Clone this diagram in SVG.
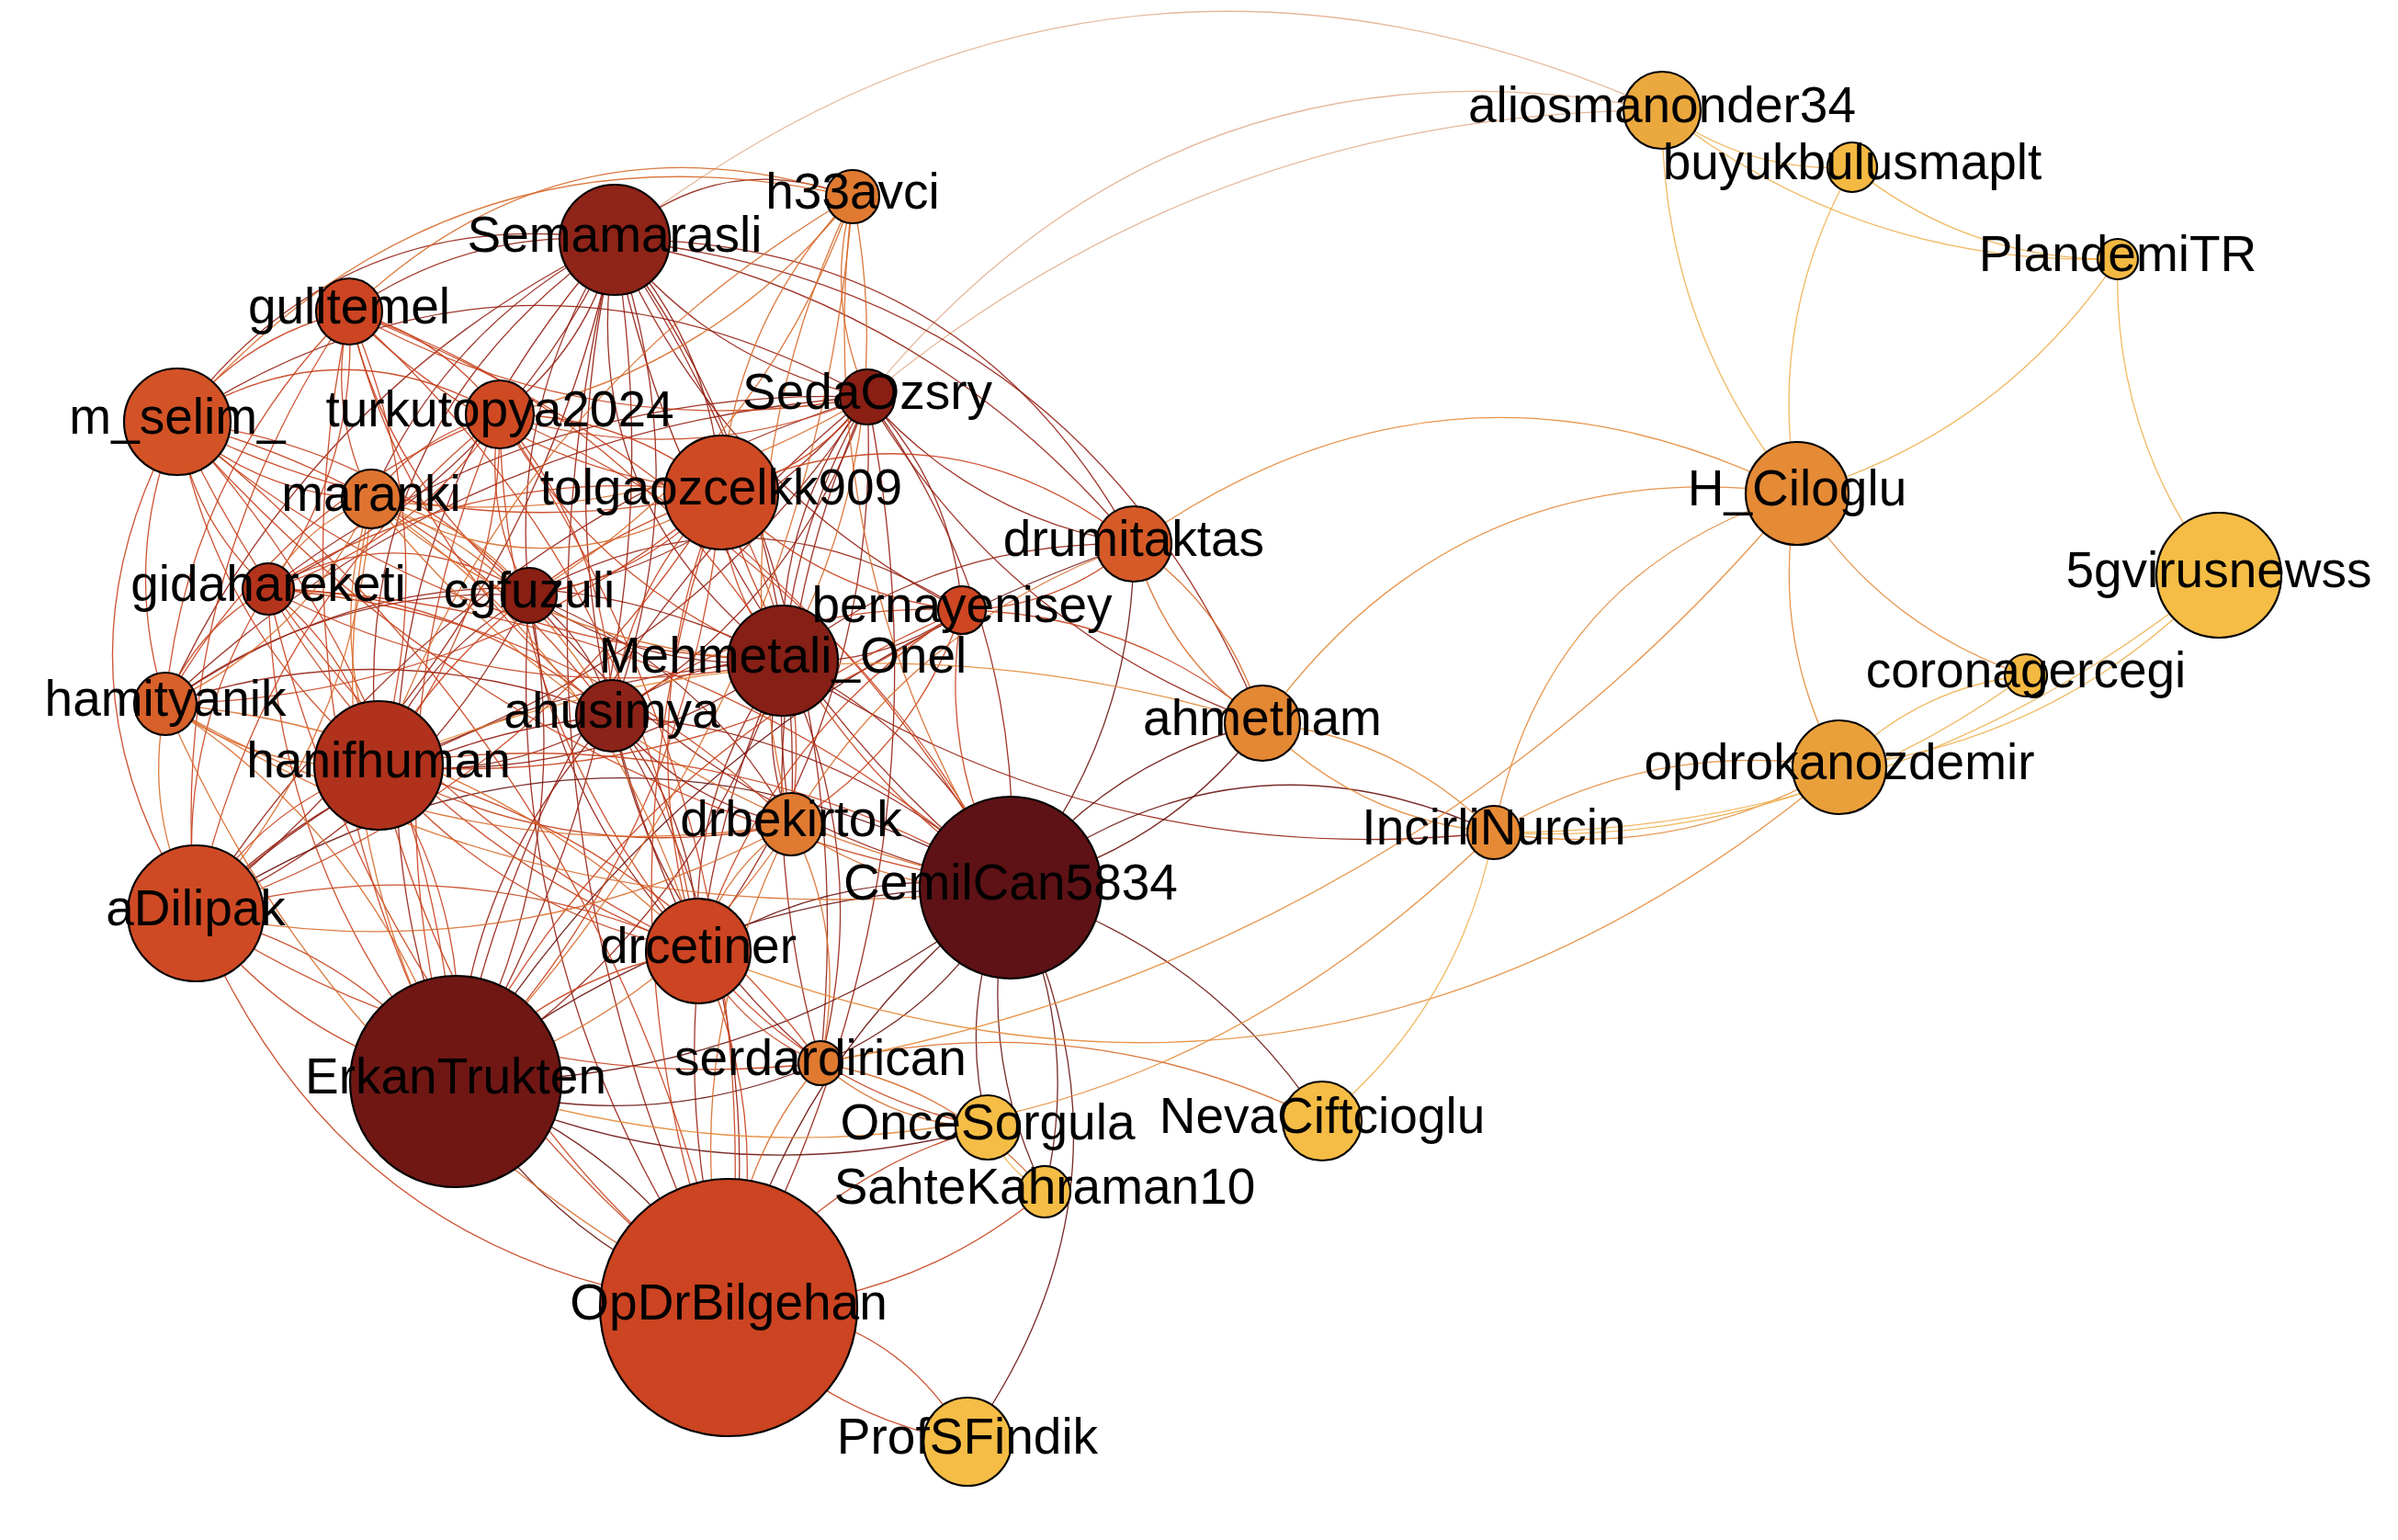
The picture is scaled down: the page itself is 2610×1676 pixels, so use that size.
<svg xmlns="http://www.w3.org/2000/svg" xmlns:xlink="http://www.w3.org/1999/xlink" width="2610" height="1676" viewBox="0 0 2610 1676">
<style>
#edges use{stroke-width:1.3;stroke-opacity:.9}
.k1{stroke:#6a1410}.k2{stroke:#951f12}.k3{stroke:#c8401c}.k4{stroke:#d86a2a}.k5{stroke:#e48a38}.k6{stroke:#f0b050}.k7{stroke:#e2b090}
.n circle{stroke:#000;stroke-width:2.2}
.n text{font-family:"Liberation Sans",Arial,Helvetica,sans-serif;font-size:55px;text-anchor:middle;fill:#000}
</style>
<defs>
<path id="a" d="M0 0Q.5 .3 1 0" fill="none" vector-effect="non-scaling-stroke"/>
<path id="b" d="M0 0Q.5 -.3 1 0" fill="none" vector-effect="non-scaling-stroke"/>
<path id="c" d="M0 0Q.5 .18 1 0" fill="none" vector-effect="non-scaling-stroke"/>
<path id="d" d="M0 0Q.5 -.18 1 0" fill="none" vector-effect="non-scaling-stroke"/>
</defs>
<rect width="2610" height="1676" fill="#fff"/>
<g id="edges">
<g class="k7">
<use href="#b" transform="matrix(1140,-141,141,1140,669,261)"/>
<use href="#b" transform="matrix(865,-312,312,865,944,432)"/>
<use href="#d" transform="matrix(865,-312,312,865,944,432)"/>
</g>
<g class="k2">
<use href="#b" transform="matrix(259,-47,47,259,669,261)"/>
<use href="#c" transform="matrix(-289,78,-78,-289,669,261)"/>
<use href="#a" transform="matrix(-476,198,-198,-476,669,261)"/>
<use href="#d" transform="matrix(-125,190,-190,-125,669,261)"/>
<use href="#c" transform="matrix(-265,282,-282,-265,669,261)"/>
<use href="#d" transform="matrix(116,275,-275,116,669,261)"/>
<use href="#c" transform="matrix(275,171,-171,275,669,261)"/>
<use href="#d" transform="matrix(-377,380,-380,-377,669,261)"/>
<use href="#c" transform="matrix(-93,387,-387,-93,669,261)"/>
<use href="#a" transform="matrix(183,458,-458,183,669,261)"/>
<use href="#d" transform="matrix(-3,518,-518,-3,669,261)"/>
<use href="#c" transform="matrix(-489,505,-505,-489,669,261)"/>
<use href="#a" transform="matrix(-257,572,-572,-257,669,261)"/>
<use href="#d" transform="matrix(192,636,-636,192,669,261)"/>
<use href="#c" transform="matrix(431,705,-705,431,669,261)"/>
<use href="#d" transform="matrix(-456,733,-733,-456,669,261)"/>
<use href="#c" transform="matrix(91,774,-774,91,669,261)"/>
<use href="#a" transform="matrix(-173,916,-916,-173,669,261)"/>
<use href="#d" transform="matrix(-173,916,-916,-173,669,261)"/>
<use href="#c" transform="matrix(124,1162,-1162,124,669,261)"/>
<use href="#d" transform="matrix(565,331,-331,565,669,261)"/>
<use href="#b" transform="matrix(565,331,-331,565,669,261)"/>
<use href="#b" transform="matrix(705,526,-526,705,669,261)"/>
<use href="#d" transform="matrix(224,896,-896,224,669,261)"/>
<use href="#c" transform="matrix(378,403,-403,378,669,261)"/>
<use href="#c" transform="matrix(-652,209,-209,-652,944,432)"/>
<use href="#d" transform="matrix(-368,216,-216,-368,944,432)"/>
<use href="#c" transform="matrix(-92,287,-287,-92,944,432)"/>
<use href="#d" transform="matrix(-278,347,-347,-278,944,432)"/>
<use href="#c" transform="matrix(-764,334,-334,-764,944,432)"/>
<use href="#d" transform="matrix(-532,401,-401,-532,944,432)"/>
<use href="#c" transform="matrix(-83,465,-465,-83,944,432)"/>
<use href="#d" transform="matrix(156,534,-534,156,944,432)"/>
<use href="#c" transform="matrix(-731,562,-562,-731,944,432)"/>
<use href="#d" transform="matrix(-184,603,-603,-184,944,432)"/>
<use href="#c" transform="matrix(-448,745,-745,-448,944,432)"/>
<use href="#d" transform="matrix(-151,991,-991,-151,944,432)"/>
<use href="#c" transform="matrix(290,160,-160,290,944,432)"/>
<use href="#c" transform="matrix(430,355,-355,430,944,432)"/>
<use href="#d" transform="matrix(103,232,-232,103,944,432)"/>
<use href="#c" transform="matrix(-51,725,-725,-51,944,432)"/>
<use href="#a" transform="matrix(-751,27,-27,-751,944,432)"/>
<use href="#c" transform="matrix(276,71,-71,276,576,648)"/>
<use href="#d" transform="matrix(90,131,-131,90,576,648)"/>
<use href="#c" transform="matrix(-396,118,-118,-396,576,648)"/>
<use href="#c" transform="matrix(-164,185,-185,-164,576,648)"/>
<use href="#d" transform="matrix(285,249,-249,285,576,648)"/>
<use href="#c" transform="matrix(524,318,-318,524,576,648)"/>
<use href="#d" transform="matrix(-363,346,-346,-363,576,648)"/>
<use href="#c" transform="matrix(184,387,-387,184,576,648)"/>
<use href="#d" transform="matrix(-80,529,-529,-80,576,648)"/>
<use href="#c" transform="matrix(217,775,-775,217,576,648)"/>
<use href="#b" transform="matrix(471,16,-16,471,576,648)"/>
<use href="#c" transform="matrix(-186,60,-60,-186,852,719)"/>
<use href="#a" transform="matrix(-672,47,-47,-672,852,719)"/>
<use href="#d" transform="matrix(-440,114,-114,-440,852,719)"/>
<use href="#c" transform="matrix(9,178,-178,9,852,719)"/>
<use href="#d" transform="matrix(248,247,-247,248,852,719)"/>
<use href="#c" transform="matrix(-639,275,-275,-639,852,719)"/>
<use href="#c" transform="matrix(-92,316,-316,-92,852,719)"/>
<use href="#d" transform="matrix(-356,458,-458,-356,852,719)"/>
<use href="#c" transform="matrix(-59,704,-704,-59,852,719)"/>
<use href="#c" transform="matrix(195,-55,55,195,852,719)"/>
<use href="#d" transform="matrix(41,438,-438,41,852,719)"/>
<use href="#c" transform="matrix(774,187,-187,774,852,719)"/>
<use href="#d" transform="matrix(382,-127,127,382,852,719)"/>
<use href="#c" transform="matrix(-486,-13,13,-486,666,779)"/>
<use href="#d" transform="matrix(-254,54,-54,-254,666,779)"/>
<use href="#c" transform="matrix(195,118,-118,195,666,779)"/>
<use href="#d" transform="matrix(434,187,-187,434,666,779)"/>
<use href="#c" transform="matrix(-453,215,-215,-453,666,779)"/>
<use href="#d" transform="matrix(94,256,-256,94,666,779)"/>
<use href="#c" transform="matrix(-170,398,-398,-170,666,779)"/>
<use href="#d" transform="matrix(127,644,-644,127,666,779)"/>
<use href="#c" transform="matrix(227,378,-378,227,666,779)"/>
</g>
<g class="k1">
<use href="#a" transform="matrix(-887,28,-28,-887,1100,966)"/>
<use href="#c" transform="matrix(-340,69,-69,-340,1100,966)"/>
<use href="#d" transform="matrix(-604,211,-211,-604,1100,966)"/>
<use href="#c" transform="matrix(-604,211,-211,-604,1100,966)"/>
<use href="#c" transform="matrix(-307,457,-457,-307,1100,966)"/>
<use href="#d" transform="matrix(-207,191,-191,-207,1100,966)"/>
<use href="#c" transform="matrix(-25,261,-261,-25,1100,966)"/>
<use href="#c" transform="matrix(37,331,-331,37,1100,966)"/>
<use href="#d" transform="matrix(37,331,-331,37,1100,966)"/>
<use href="#b" transform="matrix(-47,603,-603,-47,1100,966)"/>
<use href="#d" transform="matrix(339,254,-254,339,1100,966)"/>
<use href="#b" transform="matrix(526,-60,60,526,1100,966)"/>
<use href="#c" transform="matrix(274,-179,179,274,1100,966)"/>
<use href="#d" transform="matrix(274,-179,179,274,1100,966)"/>
<use href="#c" transform="matrix(134,-374,374,134,1100,966)"/>
<use href="#c" transform="matrix(297,246,-246,297,496,1177)"/>
<use href="#d" transform="matrix(297,246,-246,297,496,1177)"/>
<use href="#c" transform="matrix(397,-20,20,397,496,1177)"/>
<use href="#c" transform="matrix(579,50,-50,579,496,1177)"/>
<use href="#d" transform="matrix(738,-585,585,738,496,1177)"/>
</g>
<g class="k3">
<use href="#c" transform="matrix(-187,120,-120,-187,380,339)"/>
<use href="#d" transform="matrix(164,112,-112,164,380,339)"/>
<use href="#c" transform="matrix(24,204,-204,24,380,339)"/>
<use href="#c" transform="matrix(405,197,-197,405,380,339)"/>
<use href="#c" transform="matrix(564,93,-93,564,380,339)"/>
<use href="#d" transform="matrix(-88,302,-302,-88,380,339)"/>
<use href="#c" transform="matrix(196,309,-309,196,380,339)"/>
<use href="#d" transform="matrix(472,380,-380,472,380,339)"/>
<use href="#c" transform="matrix(286,440,-440,286,380,339)"/>
<use href="#c" transform="matrix(-200,427,-427,-200,380,339)"/>
<use href="#d" transform="matrix(32,494,-494,32,380,339)"/>
<use href="#c" transform="matrix(-167,655,-655,-167,380,339)"/>
<use href="#c" transform="matrix(116,838,-838,116,380,339)"/>
<use href="#d" transform="matrix(720,627,-627,720,380,339)"/>
<use href="#d" transform="matrix(380,696,-696,380,380,339)"/>
<use href="#b" transform="matrix(351,-8,8,351,193,459)"/>
<use href="#c" transform="matrix(211,84,-84,211,193,459)"/>
<use href="#c" transform="matrix(592,77,-77,592,193,459)"/>
<use href="#c" transform="matrix(99,182,-182,99,193,459)"/>
<use href="#d" transform="matrix(383,189,-189,383,193,459)"/>
<use href="#c" transform="matrix(659,260,-260,659,193,459)"/>
<use href="#d" transform="matrix(473,320,-320,473,193,459)"/>
<use href="#c" transform="matrix(-13,307,-307,-13,193,459)"/>
<use href="#c" transform="matrix(219,374,-374,219,193,459)"/>
<use href="#a" transform="matrix(20,535,-535,20,193,459)"/>
<use href="#d" transform="matrix(303,718,-718,303,193,459)"/>
<use href="#c" transform="matrix(907,507,-507,907,193,459)"/>
<use href="#c" transform="matrix(567,576,-576,567,193,459)"/>
<use href="#d" transform="matrix(600,964,-964,600,193,459)"/>
<use href="#c" transform="matrix(-140,92,-92,-140,544,451)"/>
<use href="#d" transform="matrix(241,85,-85,241,544,451)"/>
<use href="#c" transform="matrix(400,-19,19,400,544,451)"/>
<use href="#d" transform="matrix(-252,190,-190,-252,544,451)"/>
<use href="#c" transform="matrix(32,197,-197,32,544,451)"/>
<use href="#c" transform="matrix(308,268,-268,308,544,451)"/>
<use href="#d" transform="matrix(122,328,-328,122,544,451)"/>
<use href="#c" transform="matrix(-364,315,-315,-364,544,451)"/>
<use href="#d" transform="matrix(-132,382,-382,-132,544,451)"/>
<use href="#c" transform="matrix(-331,543,-543,-331,544,451)"/>
<use href="#c" transform="matrix(-48,726,-726,-48,544,451)"/>
<use href="#d" transform="matrix(556,515,-515,556,544,451)"/>
<use href="#c" transform="matrix(216,584,-584,216,544,451)"/>
<use href="#d" transform="matrix(249,972,-972,249,544,451)"/>
<use href="#c" transform="matrix(159,-104,104,159,785,536)"/>
<use href="#c" transform="matrix(-493,105,-105,-493,785,536)"/>
<use href="#d" transform="matrix(-209,112,-112,-209,785,536)"/>
<use href="#c" transform="matrix(67,183,-183,67,785,536)"/>
<use href="#c" transform="matrix(-119,243,-243,-119,785,536)"/>
<use href="#d" transform="matrix(-605,230,-230,-605,785,536)"/>
<use href="#c" transform="matrix(-373,297,-297,-373,785,536)"/>
<use href="#d" transform="matrix(76,361,-361,76,785,536)"/>
<use href="#c" transform="matrix(315,430,-430,315,785,536)"/>
<use href="#d" transform="matrix(-572,458,-458,-572,785,536)"/>
<use href="#c" transform="matrix(-25,499,-499,-25,785,536)"/>
<use href="#d" transform="matrix(-289,641,-641,-289,785,536)"/>
<use href="#c" transform="matrix(8,887,-887,8,785,536)"/>
<use href="#b" transform="matrix(449,56,-56,449,785,536)"/>
<use href="#c" transform="matrix(262,128,-128,262,785,536)"/>
<use href="#b" transform="matrix(284,7,-7,284,292,641)"/>
<use href="#c" transform="matrix(560,78,-78,560,292,641)"/>
<use href="#d" transform="matrix(374,138,-138,374,292,641)"/>
<use href="#c" transform="matrix(-112,125,-125,-112,292,641)"/>
<use href="#d" transform="matrix(120,192,-192,120,292,641)"/>
<use href="#c" transform="matrix(-79,353,-353,-79,292,641)"/>
<use href="#c" transform="matrix(204,536,-536,204,292,641)"/>
<use href="#d" transform="matrix(808,325,-325,808,292,641)"/>
<use href="#c" transform="matrix(468,394,-394,468,292,641)"/>
<use href="#d" transform="matrix(569,256,-256,569,292,641)"/>
<use href="#c" transform="matrix(501,782,-782,501,292,641)"/>
<use href="#c" transform="matrix(449,64,-64,449,412,833)"/>
<use href="#d" transform="matrix(688,133,-133,688,412,833)"/>
<use href="#c" transform="matrix(-199,161,-161,-199,412,833)"/>
<use href="#c" transform="matrix(348,202,-202,348,412,833)"/>
<use href="#d" transform="matrix(84,344,-344,84,412,833)"/>
<use href="#c" transform="matrix(381,590,-590,381,412,833)"/>
<use href="#d" transform="matrix(481,324,-324,481,412,833)"/>
<use href="#d" transform="matrix(547,41,-41,547,213,994)"/>
<use href="#c" transform="matrix(283,183,-183,283,213,994)"/>
<use href="#d" transform="matrix(283,183,-183,283,213,994)"/>
<use href="#a" transform="matrix(580,429,-429,580,213,994)"/>
<use href="#c" transform="matrix(680,163,-163,680,213,994)"/>
<use href="#c" transform="matrix(-264,142,-142,-264,760,1035)"/>
<use href="#d" transform="matrix(33,388,-388,33,760,1035)"/>
<use href="#c" transform="matrix(133,122,-122,133,760,1035)"/>
<use href="#c" transform="matrix(315,192,-192,315,760,1035)"/>
<use href="#c" transform="matrix(260,146,-146,260,793,1423)"/>
<use href="#b" transform="matrix(260,146,-146,260,793,1423)"/>
<use href="#d" transform="matrix(282,-196,196,282,793,1423)"/>
<use href="#c" transform="matrix(344,-126,126,344,793,1423)"/>
<use href="#c" transform="matrix(-381,115,-115,-381,1047,664)"/>
<use href="#d" transform="matrix(-635,169,-169,-635,1047,664)"/>
<use href="#c" transform="matrix(53,302,-302,53,1047,664)"/>
<use href="#d" transform="matrix(-186,233,-233,-186,1047,664)"/>
<use href="#c" transform="matrix(-551,513,-513,-551,1047,664)"/>
<use href="#d" transform="matrix(327,123,-123,327,1047,664)"/>
<use href="#c" transform="matrix(-287,371,-371,-287,1047,664)"/>
<use href="#c" transform="matrix(187,-72,72,187,1047,664)"/>
</g>
<g class="k4">
<use href="#a" transform="matrix(-548,125,-125,-548,928,214)"/>
<use href="#a" transform="matrix(-735,245,-245,-735,928,214)"/>
<use href="#d" transform="matrix(-384,237,-237,-384,928,214)"/>
<use href="#c" transform="matrix(-143,322,-322,-143,928,214)"/>
<use href="#c" transform="matrix(16,218,-218,16,928,214)"/>
<use href="#d" transform="matrix(-76,505,-505,-76,928,214)"/>
<use href="#c" transform="matrix(172,752,-752,172,928,214)"/>
<use href="#c" transform="matrix(-67,683,-683,-67,928,214)"/>
<use href="#d" transform="matrix(-352,434,-434,-352,928,214)"/>
<use href="#c" transform="matrix(-516,619,-619,-516,928,214)"/>
<use href="#d" transform="matrix(-432,963,-963,-432,928,214)"/>
<use href="#a" transform="matrix(381,-7,7,381,404,543)"/>
<use href="#c" transform="matrix(540,-111,111,540,404,543)"/>
<use href="#c" transform="matrix(-112,98,-98,-112,404,543)"/>
<use href="#d" transform="matrix(172,105,-105,172,404,543)"/>
<use href="#c" transform="matrix(448,176,-176,448,404,543)"/>
<use href="#d" transform="matrix(262,236,-236,262,404,543)"/>
<use href="#d" transform="matrix(-224,223,-223,-224,404,543)"/>
<use href="#c" transform="matrix(8,290,-290,8,404,543)"/>
<use href="#d" transform="matrix(-191,451,-451,-191,404,543)"/>
<use href="#c" transform="matrix(92,634,-634,92,404,543)"/>
<use href="#c" transform="matrix(696,423,-423,696,404,543)"/>
<use href="#d" transform="matrix(356,492,-492,356,404,543)"/>
<use href="#c" transform="matrix(232,67,-67,232,180,766)"/>
<use href="#c" transform="matrix(33,228,-228,33,180,766)"/>
<use href="#d" transform="matrix(316,411,-411,316,180,766)"/>
<use href="#c" transform="matrix(920,200,-200,920,180,766)"/>
<use href="#d" transform="matrix(580,269,-269,580,180,766)"/>
<use href="#c" transform="matrix(681,131,-131,681,180,766)"/>
<use href="#c" transform="matrix(613,657,-657,613,180,766)"/>
<use href="#c" transform="matrix(239,69,-69,239,861,897)"/>
<use href="#d" transform="matrix(-648,97,-97,-648,861,897)"/>
<use href="#c" transform="matrix(-101,138,-138,-101,861,897)"/>
<use href="#d" transform="matrix(-365,280,-280,-365,861,897)"/>
<use href="#c" transform="matrix(-68,526,-526,-68,861,897)"/>
<use href="#d" transform="matrix(32,260,-260,32,861,897)"/>
<use href="#c" transform="matrix(-100,266,-266,-100,893,1157)"/>
<use href="#c" transform="matrix(182,70,-70,182,893,1157)"/>
<use href="#d" transform="matrix(546,63,-63,546,893,1157)"/>
<use href="#d" transform="matrix(244,140,-140,244,893,1157)"/>
<use href="#c" transform="matrix(140,195,-195,140,1234,592)"/>
<use href="#d" transform="matrix(140,195,-195,140,1234,592)"/>
<use href="#c" transform="matrix(-373,305,-305,-373,1234,592)"/>
</g>
<g class="k5">
<use href="#b" transform="matrix(722,-55,55,722,1234,592)"/>
<use href="#b" transform="matrix(582,-250,250,582,1374,787)"/>
<use href="#c" transform="matrix(252,119,-119,252,1374,787)"/>
<use href="#d" transform="matrix(252,119,-119,252,1374,787)"/>
<use href="#c" transform="matrix(-962,46,-46,-962,1374,787)"/>
<use href="#b" transform="matrix(-1130,271,-271,-1130,1626,906)"/>
<use href="#d" transform="matrix(-1063,620,-620,-1063,1956,537)"/>
<use href="#a" transform="matrix(-330,369,-369,-330,1956,537)"/>
<use href="#c" transform="matrix(-376,71,-71,-376,2002,835)"/>
<use href="#d" transform="matrix(-376,71,-71,-376,2002,835)"/>
<use href="#b" transform="matrix(-1242,200,-200,-1242,2002,835)"/>
<use href="#c" transform="matrix(46,298,-298,46,1956,537)"/>
<use href="#c" transform="matrix(249,198,-198,249,1956,537)"/>
</g>
<g class="k6">
<use href="#c" transform="matrix(207,62,-62,207,1809,120)"/>
<use href="#c" transform="matrix(496,162,-162,496,1809,120)"/>
<use href="#c" transform="matrix(289,100,-100,289,2016,182)"/>
<use href="#c" transform="matrix(147,417,-417,147,1809,120)"/>
<use href="#c" transform="matrix(-60,355,-355,-60,2016,182)"/>
<use href="#d" transform="matrix(-349,255,-255,-349,2305,282)"/>
<use href="#c" transform="matrix(110,344,-344,110,2305,282)"/>
<use href="#c" transform="matrix(-203,100,-100,-203,2205,735)"/>
<use href="#d" transform="matrix(-579,171,-171,-579,2205,735)"/>
<use href="#d" transform="matrix(-789,280,-280,-789,2415,626)"/>
<use href="#d" transform="matrix(-413,209,-209,-413,2415,626)"/>
<use href="#d" transform="matrix(-187,314,-314,-187,1626,906)"/>
<use href="#c" transform="matrix(62,70,-70,62,1075,1227)"/>
</g>
</g>
<g id="nodes" class="n">
<g id="OpDrBilgehan"><circle cx="793" cy="1423" r="140" fill="#cc4421"/><text x="793" y="1436">OpDrBilgehan</text></g>
<g id="ErkanTrukten"><circle cx="496" cy="1177" r="115" fill="#701714"/><text x="496" y="1190">ErkanTrukten</text></g>
<g id="CemilCan5834"><circle cx="1100" cy="966" r="99" fill="#5e1215"/><text x="1100" y="979">CemilCan5834</text></g>
<g id="aDilipak"><circle cx="213" cy="994" r="74" fill="#cf4a24"/><text x="213" y="1007">aDilipak</text></g>
<g id="hanifhuman"><circle cx="412" cy="833" r="70" fill="#b0321c"/><text x="412" y="846">hanifhuman</text></g>
<g id="5gvirusnewss"><circle cx="2415" cy="626" r="68" fill="#f5bd45"/><text x="2415" y="639">5gvirusnewss</text></g>
<g id="tolgaozcelkk909"><circle cx="785" cy="536" r="62" fill="#cf4a23"/><text x="785" y="549">tolgaozcelkk909</text></g>
<g id="Semamarasli"><circle cx="669" cy="261" r="60" fill="#8f2418"/><text x="669" y="274">Semamarasli</text></g>
<g id="Mehmetali_Onel"><circle cx="852" cy="719" r="60" fill="#861f16"/><text x="852" y="732">Mehmetali_Onel</text></g>
<g id="m_selim_"><circle cx="193" cy="459" r="58" fill="#d35326"/><text x="193" y="472">m_selim_</text></g>
<g id="drcetiner"><circle cx="760" cy="1035" r="57" fill="#cc4421"/><text x="760" y="1048">drcetiner</text></g>
<g id="H_Ciloglu"><circle cx="1956" cy="537" r="56" fill="#e58a35"/><text x="1956" y="550">H_Ciloglu</text></g>
<g id="opdrokanozdemir"><circle cx="2002" cy="835" r="51" fill="#eaa03a"/><text x="2002" y="848">opdrokanozdemir</text></g>
<g id="ProfSFindik"><circle cx="1053" cy="1569" r="48" fill="#f5bd45"/><text x="1053" y="1582">ProfSFindik</text></g>
<g id="NevaCiftcioglu"><circle cx="1439" cy="1220" r="43" fill="#f5bd45"/><text x="1439" y="1233">NevaCiftcioglu</text></g>
<g id="aliosmanonder34"><circle cx="1809" cy="120" r="42" fill="#eba83e"/><text x="1809" y="133">aliosmanonder34</text></g>
<g id="drumitaktas"><circle cx="1234" cy="592" r="41" fill="#d65a27"/><text x="1234" y="605">drumitaktas</text></g>
<g id="ahmetham"><circle cx="1374" cy="787" r="41" fill="#e48833"/><text x="1374" y="800">ahmetham</text></g>
<g id="ahusimya"><circle cx="666" cy="779" r="39" fill="#8c2318"/><text x="666" y="792">ahusimya</text></g>
<g id="turkutopya2024"><circle cx="544" cy="451" r="37" fill="#cf4a23"/><text x="544" y="464">turkutopya2024</text></g>
<g id="gulltemel"><circle cx="380" cy="339" r="36" fill="#cc4422"/><text x="380" y="352">gulltemel</text></g>
<g id="OnceSorgula"><circle cx="1075" cy="1227" r="35" fill="#f5bd45"/><text x="1075" y="1240">OnceSorgula</text></g>
<g id="hamityanik"><circle cx="180" cy="766" r="34" fill="#d8602a"/><text x="180" y="779">hamityanik</text></g>
<g id="drbekirtok"><circle cx="861" cy="897" r="34" fill="#e07a30"/><text x="861" y="910">drbekirtok</text></g>
<g id="maranki"><circle cx="404" cy="543" r="32" fill="#df7430"/><text x="404" y="556">maranki</text></g>
<g id="SedaOzsry"><circle cx="944" cy="432" r="30" fill="#8a1f14"/><text x="944" y="445">SedaOzsry</text></g>
<g id="cgfuzuli"><circle cx="576" cy="648" r="30" fill="#8a1f14"/><text x="576" y="661">cgfuzuli</text></g>
<g id="IncirliNurcin"><circle cx="1626" cy="906" r="29" fill="#e68a35"/><text x="1626" y="919">IncirliNurcin</text></g>
<g id="h33avci"><circle cx="928" cy="214" r="29" fill="#e07a30"/><text x="928" y="227">h33avci</text></g>
<g id="gidahareketi"><circle cx="292" cy="641" r="28" fill="#b3341b"/><text x="292" y="654">gidahareketi</text></g>
<g id="SahteKahraman10"><circle cx="1137" cy="1297" r="28" fill="#f5bd45"/><text x="1137" y="1310">SahteKahraman10</text></g>
<g id="buyukbulusmaplt"><circle cx="2016" cy="182" r="27" fill="#f4b942"/><text x="2016" y="195">buyukbulusmaplt</text></g>
<g id="bernayenisey"><circle cx="1047" cy="664" r="26" fill="#cf4622"/><text x="1047" y="677">bernayenisey</text></g>
<g id="serdardirican"><circle cx="893" cy="1157" r="24" fill="#e07a30"/><text x="893" y="1170">serdardirican</text></g>
<g id="coronagercegi"><circle cx="2205" cy="735" r="23" fill="#f4b942"/><text x="2205" y="748">coronagercegi</text></g>
<g id="PlandemiTR"><circle cx="2305" cy="282" r="22" fill="#f4b942"/><text x="2305" y="295">PlandemiTR</text></g>
</g>
</svg>
